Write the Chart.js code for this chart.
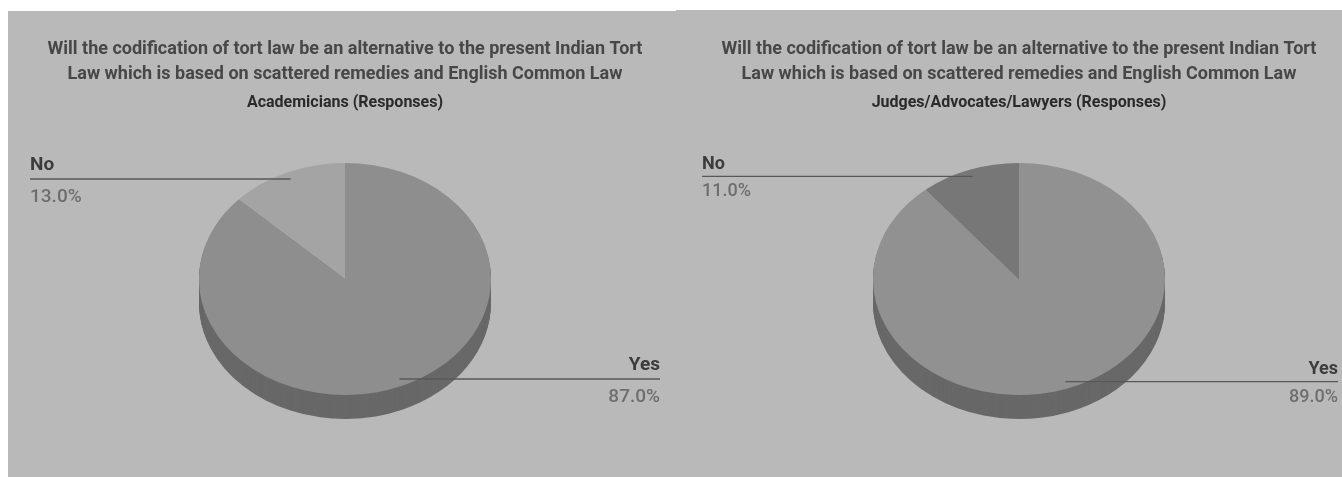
<!DOCTYPE html>
<html>
<head>
<meta charset="utf-8">
<script src="https://cdn.jsdelivr.net/npm/chart.js@4/dist/chart.umd.min.js"></script>
<style>
  html, body { margin: 0; padding: 0; background: #fff; }
  body { position: relative; width: 1342px; height: 477px; overflow: hidden; }
  .panel { position: absolute; background: #b9b9b9; }
  canvas { position: absolute; }
</style>
</head>
<body>
<div class="panel" style="left:8px;top:11px;width:668px;height:466px"></div>
<div class="panel" style="left:676px;top:10px;width:666px;height:467px"></div>
<canvas id="academicians" style="left:8px;top:11px" width="674" height="466"></canvas>
<canvas id="lawyers" style="left:696px;top:11px" width="646" height="466"></canvas>
<script>
const categories = ['Yes', 'No'];
const academicianValues = [87, 13];
const lawyerValues = [89, 11];
const titleLines = [
  'Will the codification of tort law be an alternative to the present Indian Tort',
  'Law which is based on scattered remedies and English Common Law'
];
const academicianSubtitle = 'Academicians (Responses)';
const lawyerSubtitle = 'Judges/Advocates/Lawyers (Responses)';
const academicianColors = ['#8e8e8e', '#a4a4a4'];
const lawyerColors = ['#919191', '#777777'];

const FONT = 'Roboto, sans-serif';
const TILT = 116 / 146;      // vertical squash of the pie disc
const DEPTH = 24;            // height of the disc edge
const EDGE_COLOR = '#686868';
const LEADER_REACH = 0.94;   // where a leader meets its slice, as a share of the radius

// Draws the pie as a tilted disc: the library's arcs are repeated downward for the
// edge, then the regular dataset pass runs under the same squashing transform.
const tiltedDisc = {
  id: 'tiltedDisc',
  beforeDatasetsDraw(chart) {
    const ctx = chart.ctx;
    const arcs = chart.getDatasetMeta(0).data;
    const cy = arcs[0].y;
    const squash = () => {
      ctx.translate(0, cy);
      ctx.scale(1, TILT);
      ctx.translate(0, -cy);
    };
    for (let dy = DEPTH; dy > 0; dy--) {
      ctx.save();
      ctx.translate(0, dy);
      squash();
      arcs.forEach(arc => {
        const original = arc.options;
        arc.options = Object.assign({}, original, { backgroundColor: EDGE_COLOR, borderWidth: 0 });
        arc.draw(ctx);
        arc.options = original;
      });
      ctx.restore();
    }
    ctx.save();
    squash();
  },
  afterDatasetsDraw(chart) {
    chart.ctx.restore();
  }
};

// Horizontal leader lines with a category name above and a percentage below.
const calloutLabels = {
  id: 'calloutLabels',
  afterDraw(chart, args, opts) {
    const ctx = chart.ctx;
    const arcs = chart.getDatasetMeta(0).data;
    const values = chart.data.datasets[0].data;
    const total = values.reduce((a, b) => a + b, 0);
    arcs.forEach((arc, i) => {
      const mid = (arc.startAngle + arc.endAngle) / 2;
      const x = arc.x + Math.cos(mid) * arc.outerRadius * LEADER_REACH;
      const y = arc.y + Math.sin(mid) * arc.outerRadius * LEADER_REACH * TILT;
      const onRight = Math.cos(mid) > 0;
      const end = onRight ? opts.rightEdge : opts.leftEdge;
      ctx.save();
      ctx.strokeStyle = '#585858';
      ctx.lineWidth = 1.4;
      ctx.beginPath();
      ctx.moveTo(x, y);
      ctx.lineTo(end, y);
      ctx.stroke();
      ctx.textAlign = onRight ? 'right' : 'left';
      ctx.textBaseline = 'alphabetic';
      ctx.font = '700 ' + opts.nameSize + 'px ' + FONT;
      ctx.fillStyle = '#3c3c3c';
      ctx.fillText(chart.data.labels[i], end, y - opts.nameLift);
      ctx.font = '500 ' + opts.valueSize + 'px ' + FONT;
      ctx.fillStyle = '#6e6e6e';
      ctx.fillText((values[i] / total * 100).toFixed(1) + '%', end, y + opts.valueDrop);
      ctx.restore();
    });
  }
};

function drawPanel(canvasId, values, colors, subtitle, callouts) {
  const canvas = document.getElementById(canvasId);
  return new Chart(canvas, {
    type: 'pie',
    data: {
      labels: categories,
      datasets: [{ data: values, backgroundColor: colors, borderWidth: 0, clip: false }]
    },
    options: {
      responsive: false,
      animation: false,
      events: [],
      layout: { padding: { left: 0, right: 0, top: 0, bottom: 52 } },
      plugins: {
        legend: { display: false },
        tooltip: { enabled: false },
        title: {
          display: true,
          text: titleLines,
          color: '#474747',
          font: { family: FONT, size: 18, weight: '700', lineHeight: 25 / 18 },
          padding: { top: 25.5, bottom: 0 }
        },
        subtitle: {
          display: true,
          text: subtitle,
          color: '#2a2a2a',
          font: { family: FONT, size: 16, weight: '700', lineHeight: 1.2 },
          padding: { top: 6.4, bottom: 20.9 }
        },
        calloutLabels: callouts
      }
    },
    plugins: [tiltedDisc, calloutLabels]
  });
}

drawPanel('academicians', academicianValues, academicianColors, academicianSubtitle,
  { leftEdge: 22, rightEdge: 652, nameSize: 19, valueSize: 19, nameLift: 9, valueDrop: 23 });
drawPanel('lawyers', lawyerValues, lawyerColors, lawyerSubtitle,
  { leftEdge: 6, rightEdge: 642, nameSize: 18, valueSize: 18, nameLift: 7.5, valueDrop: 20 });
</script>
</body>
</html>
